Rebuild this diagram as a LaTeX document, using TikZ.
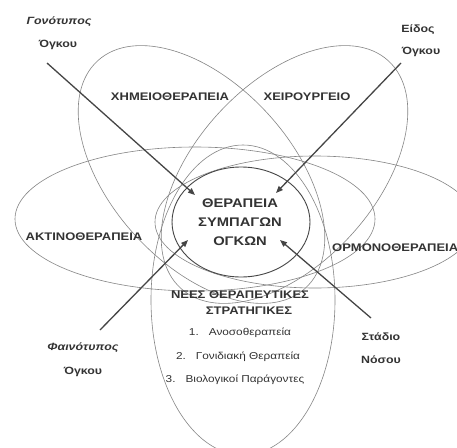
\documentclass[tikz,border=0pt]{standalone}
\usepackage{fontspec}
\setmainfont{Liberation Sans}
\newfontfamily\lab[FakeStretch=1.18]{Liberation Sans}
\usetikzlibrary{arrows.meta}
\definecolor{txt}{HTML}{333333}
\definecolor{ln}{HTML}{858585}
\definecolor{arr}{HTML}{454545}
\begin{document}
\begin{tikzpicture}[x=1pt,y=-1pt,
  ring/.style={draw=ln, line width=0.6pt},
  corering/.style={draw=arr, line width=0.9pt},
  caps/.style={text=txt, font=\lab\bfseries\fontsize{11}{13}\selectfont, inner sep=0pt},
  core/.style={text=txt, font=\lab\bfseries\fontsize{12.5}{14}\selectfont, inner sep=0pt},
  side/.style={text=txt, font=\lab\bfseries\fontsize{10.5}{12}\selectfont, inner sep=0pt},
  sideit/.style={text=txt, font=\lab\bfseries\itshape\fontsize{10.5}{12}\selectfont, inner sep=0pt},
  item/.style={text=txt, font=\lab\fontsize{10}{12}\selectfont, inner sep=0pt},
  pointer/.style={draw=arr, line width=1.3pt, -{Triangle[length=7pt,width=5.5pt]}}]
\fill[white] (0,0) rectangle (457,447);
\useasboundingbox (0,0) rectangle (457,447);
\begin{scope}
\clip (0,0) rectangle (457,447);
% outer ellipses
\draw[ring, rotate around={-47.6:(201.5,174.5)}] (201.5,174.5) ellipse [x radius=154pt, y radius=90pt];
\draw[ring, rotate around={47.6:(284.5,174.5)}] (284.5,174.5) ellipse [x radius=154pt, y radius=90pt];
\draw[ring] (195,219) ellipse [x radius=180pt, y radius=72pt];
\draw[ring] (315,222) ellipse [x radius=160pt, y radius=66pt];
\draw[ring] (243,300) ellipse [x radius=92pt, y radius=155pt];
% central ellipse
\draw[corering] (241,222) ellipse [x radius=69pt, y radius=55pt];
\end{scope}

% ellipse labels
\node[caps] (chemo) at (170,97) {ΧΗΜΕΙΟΘΕΡΑΠΕΙΑ};
\node[caps] (surg) at (307,97) {ΧΕΙΡΟΥΡΓΕΙΟ};
\node[caps] (radio) at (84,237) {ΑΚΤΙΝΟΘΕΡΑΠΕΙΑ};
\node[caps, anchor=west] (horm) at (332,248) {ΟΡΜΟΝΟΘΕΡΑΠΕΙΑ};

% centre
\node[core] (c1) at (240,203) {ΘΕΡΑΠΕΙΑ};
\node[core] (c2) at (240,222) {ΣΥΜΠΑΓΩΝ};
\node[core] (c3) at (240,241) {ΟΓΚΩΝ};

% new strategies
\node[caps] (n1) at (240,295) {ΝΕΕΣ ΘΕΡΑΠΕΥΤΙΚΕΣ};
\node[caps] (n2) at (249,311) {ΣΤΡΑΤΗΓΙΚΕΣ};
\node[item] (l1) at (240,333) {1.\hspace{10pt}Ανοσοθεραπεία};
\node[item] (l2) at (238,357) {2.\hspace{10pt}Γονιδιακή Θεραπεία};
\node[item] (l3) at (235,380) {3.\hspace{10pt}Βιολογικοί Παράγοντες};

% factor labels
\node[sideit] (gen1) at (59,22) {Γονότυπος};
\node[side] (gen2) at (58,45) {Όγκου};
\node[side] (eid1) at (418,30) {Είδος};
\node[side] (eid2) at (421,52) {Όγκου};
\node[sideit] (fai1) at (83,348) {Φαινότυπος};
\node[side] (fai2) at (83,372) {Όγκου};
\node[side] (sta1) at (381,337) {Στάδιο};
\node[side] (sta2) at (381,360) {Νόσου};

% arrow ends
\coordinate (genS) at (47,63);
\coordinate (genE) at (195,195);
\coordinate (eidS) at (401,63);
\coordinate (eidE) at (276,193);
\coordinate (faiS) at (100,330);
\coordinate (faiE) at (188,240);
\coordinate (staS) at (371,318);
\coordinate (staE) at (280,240);

\draw[pointer] (genS) -- (genE);
\draw[pointer] (eidS) -- (eidE);
\draw[pointer] (faiS) -- (faiE);
\draw[pointer] (staS) -- (staE);
\end{tikzpicture}
\end{document}
